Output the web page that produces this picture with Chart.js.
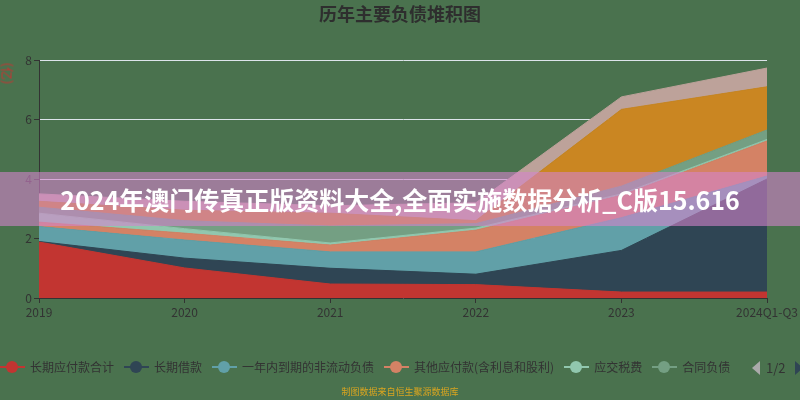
<!DOCTYPE html>
<html>
<head>
<meta charset="utf-8">
<script src="https://cdn.jsdelivr.net/npm/chart.js@4"></script>
<style>
  html, body { margin: 0; padding: 0; }
  body { width: 800px; height: 400px; background: #4a724e; position: relative; overflow: hidden; font-family: "Noto Sans CJK SC", sans-serif; }
  #wrap { position: absolute; left: 0; top: 0; width: 800px; height: 400px; }
  .title { position: absolute; top: 0px; left: 0; width: 800px; text-align: center; font-size: 18px; font-weight: bold; color: #2e2e2e; }
  .yname { position: absolute; left: -7px; top: 64px; width: 30px; text-align: center; font-size: 13px; color: #c23531; transform: rotate(90deg); }
  .legend { position: absolute; left: 0; top: 358px; display: flex; align-items: center; white-space: nowrap; font-size: 12px; color: #333; }
  .lg-item { display: flex; align-items: center; margin-right: 10px; }
  .lg-icon { position: relative; width: 25px; height: 14px; margin-right: 5px; }
  .lg-icon .ln { position: absolute; left: 0; top: 6px; width: 25px; height: 2px; }
  .lg-icon .dot { position: absolute; left: 6px; top: 1px; width: 12px; height: 12px; border-radius: 50%; }
  .pager { position: absolute; left: 752px; top: 358px; display: flex; align-items: center; font-size: 13px; color: #333; }
  .tri-l { width: 0; height: 0; border-top: 7px solid transparent; border-bottom: 7px solid transparent; border-right: 8px solid #aaa; margin-right: 6px; }
  .tri-r { width: 0; height: 0; border-top: 7px solid transparent; border-bottom: 7px solid transparent; border-left: 8px solid #2f4554; margin-left: 9px; }
  .banner { position: absolute; left: 0; top: 172px; width: 800px; height: 54px; background: rgba(211,132,203,0.6); color: #fff; font-size: 25px; font-weight: bold; line-height: 54px; text-align: center; }
  .source { position: absolute; left: 0; top: 385px; width: 800px; text-align: center; font-size: 9px; color: #d9a520; }
</style>
</head>
<body>
<div id="wrap"><canvas id="debtChart" width="800" height="400"></canvas></div>
<div class="title">历年主要负债堆积图</div>
<div class="yname">(亿)</div>
<div class="legend" id="legend"></div>
<div class="pager"><div class="tri-l"></div><span>1/2</span><div class="tri-r"></div></div>
<div class="banner">2024年澳门传真正版资料大全,全面实施数据分析_C版15.616</div>
<div class="source">制图数据来自恒生聚源数据库</div>
<script>
// ===== DATA (亿) =====
const years = ['2019', '2020', '2021', '2022', '2023', '2024Q1-Q3'];
const yTicks = [0, 2, 4, 6, 8];

const seriesNames = ['长期应付款合计', '长期借款', '一年内到期的非流动负债', '其他应付款(含利息和股利)', '应交税费', '合同负债', '应付账款', '应付票据'];
const seriesColors = ['#c23531', '#2f4554', '#61a0a8', '#d48265', '#91c7ae', '#749f83', '#ca8622', '#bda29a'];

const longPayable   = [1.88, 1.01, 0.47, 0.45, 0.20, 0.20];
const longLoan      = [0.02, 0.33, 0.53, 0.35, 1.40, 3.80];
const dueInYear     = [0.50, 0.61, 0.55, 0.75, 1.10, 0.10];
const otherPayable  = [0.15, 0.23, 0.23, 0.73, 0.75, 1.18];
const taxPayable    = [0.30, 0.15, 0.07, 0.07, 0.05, 0.05];
const contractLiab  = [0.20, 0.27, 0.57, 0.15, 0.26, 0.32];
const accountsPay   = [0.20, 0.35, 0.43, 0.10, 2.58, 1.45];
const notesPay      = [0.25, 0.30, 0.25, 0.60, 0.42, 0.63];

const seriesValues = [longPayable, longLoan, dueInYear, otherPayable, taxPayable, contractLiab, accountsPay, notesPay];
const legendShown = 6; // page 1 of 2

// LEGEND (page 1)
function initLegend() {
    const el = document.getElementById('legend');
    let html = '';
    for (let i = 0; i < legendShown; i++) {
        const c = seriesColors[i];
        html += `<div class="lg-item"><div class="lg-icon"><div class="ln" style="background:${c}"></div><div class="dot" style="background:${c}"></div></div><span>${seriesNames[i]}</span></div>`;
    }
    el.innerHTML = html;
}

// STACKED AREA
function initDebtChart() {
    const ctx = document.getElementById('debtChart');
    new Chart(ctx, {
        type: 'line',
        data: {
            labels: years,
            datasets: seriesValues.map((vals, i) => ({
                label: seriesNames[i], data: vals,
                borderColor: seriesColors[i], backgroundColor: seriesColors[i],
                borderWidth: 1, pointRadius: 0, tension: 0, fill: i === 0 ? 'origin' : '-1'
            }))
        },
        options: {
            responsive: false, animation: false,
            layout: { padding: { left: 0, right: 32, top: 60, bottom: 72 } },
            plugins: { legend: { display: false }, tooltip: { enabled: false } },
            scales: {
                x: {
                    offset: false,
                    afterFit: s => { s.height = 30; },
                    border: { display: true, color: '#333', width: 1 },
                    grid: { display: true, drawOnChartArea: false, drawTicks: true, tickLength: 5, tickColor: '#333' },
                    ticks: { color: '#333', font: { size: 12, family: 'Noto Sans CJK SC' }, padding: 2, maxRotation: 0, autoSkip: false }
                },
                y: {
                    stacked: true, min: 0, max: 8,
                    afterFit: s => { s.width = 39; },
                    afterBuildTicks: s => { s.ticks = yTicks.map(v => ({ value: v })); },
                    border: { display: true, color: '#333', width: 1 },
                    grid: { color: '#dde4ea', lineWidth: 1, drawTicks: true, tickLength: 5, tickColor: '#333' },
                    ticks: { color: '#333', font: { size: 12, family: 'Noto Sans CJK SC' }, padding: 2 }
                }
            }
        }
    });
}

initLegend();
initDebtChart();
</script>
</body>
</html>
